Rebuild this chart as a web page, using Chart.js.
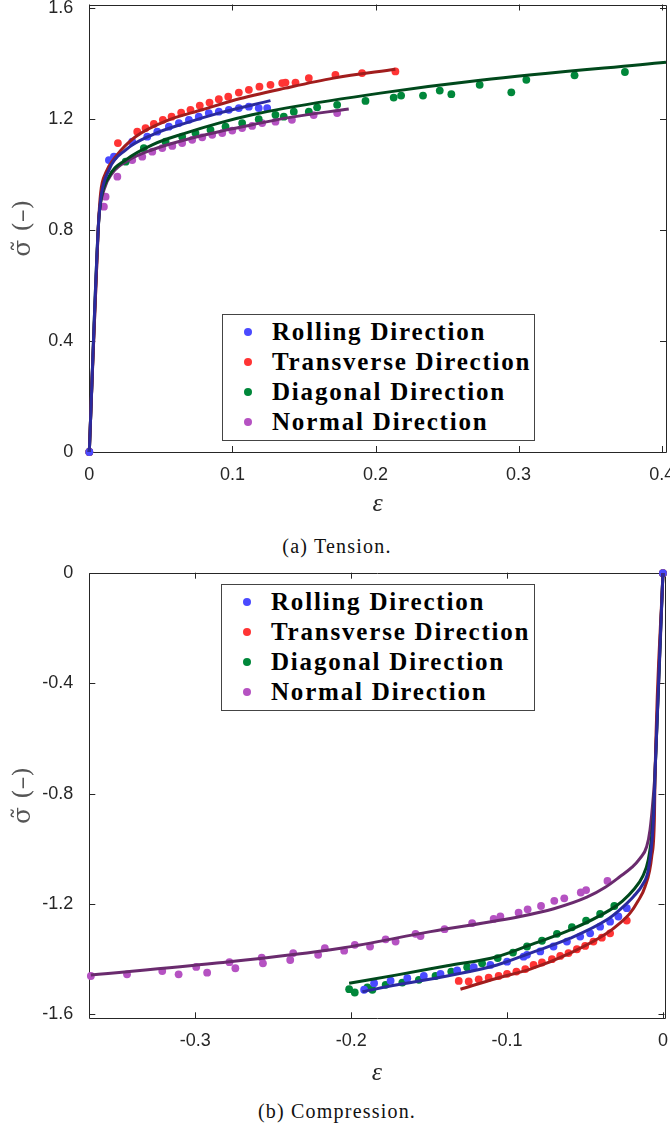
<!DOCTYPE html>
<html>
<head>
<meta charset="utf-8">
<script src="https://cdn.jsdelivr.net/npm/chart.js@4.4.1/dist/chart.umd.min.js"></script>
<style>
  body { margin: 0; background: #fff; width: 670px; height: 1130px; position: relative; overflow: hidden; }
  .plot { position: absolute; left: 0; }
  .legend { position: absolute; box-sizing: border-box; border: 1px solid #444; background: #fff;
            font-family: 'Liberation Serif', serif; font-weight: bold; font-size: 25px; letter-spacing: 1.8px; color: #000; }
  .legend .row { position: absolute; left: 0; height: 30px; line-height: 30px; white-space: nowrap; }
  .legend .dot { position: absolute; left: 21px; top: 11px; width: 8px; height: 8px; border-radius: 50%; }
  .legend .txt { position: absolute; left: 49px; top: 0; }
  .caption { position: absolute; left: 0; width: 674px; text-align: center; font-family: 'Liberation Serif', serif;
             font-size: 20px; letter-spacing: 1.2px; color: #111; }
</style>
</head>
<body>
<canvas id="tensionChart" class="plot" width="670" height="520" style="top:0"></canvas>
<div id="tensionLegend" class="legend" style="left:222px; top:314px; width:313px; height:127px;"></div>
<div class="caption" style="top:535px">(a) Tension.</div>

<canvas id="compressionChart" class="plot" width="670" height="529" style="top:560px"></canvas>
<div id="compressionLegend" class="legend" style="left:221px; top:584px; width:314px; height:127px;"></div>
<div class="caption" style="top:1100px">(b) Compression.</div>

<script>
const seriesNames = ['Rolling Direction', 'Transverse Direction', 'Diagonal Direction', 'Normal Direction'];
const pointColors = ['#4a4aff', '#ff3434', '#00873a', '#b552c2'];
const lineColors = ['#2a2a9e', '#a11d1d', '#00491c', '#6a2b6e'];

// tick labels
const xTicksTension = [0, 0.1, 0.2, 0.3, 0.4];
const yTicksTension = [0, 0.4, 0.8, 1.2, 1.6];
const xTicksCompression = [-0.3, -0.2, -0.1, 0];
const yTicksCompression = [-1.6, -1.2, -0.8, -0.4, 0];

// tension: measured points [strain, stress]
const tensionRollingPts = [[0,0],[0.0137,1.051],[0.0172,1.063],[0.030,1.117],[0.0405,1.135],[0.0475,1.153],[0.0556,1.171],
  [0.0626,1.184],[0.0696,1.196],[0.0765,1.207],[0.0835,1.220],[0.0905,1.225],[0.0975,1.232],[0.1045,1.238],[0.1115,1.243],
  [0.1184,1.238],[0.1243,1.238]];
const tensionTransversePts = [[0,0],[0.020,1.112],[0.0335,1.153],[0.0393,1.166],[0.0451,1.181],[0.0514,1.196],[0.0575,1.207],
  [0.0642,1.222],[0.0707,1.232],[0.0772,1.247],[0.084,1.258],[0.0905,1.270],[0.0971,1.279],[0.1045,1.294],[0.1115,1.304],
  [0.1189,1.315],[0.1266,1.322],[0.1348,1.328],[0.1371,1.330],[0.1441,1.330],[0.1534,1.346],[0.172,1.358],[0.1906,1.364],[0.2139,1.370]];
const tensionDiagonalPts = [[0,0],[0.0254,1.045],[0.0381,1.094],[0.0533,1.117],[0.0649,1.135],[0.0742,1.148],[0.0847,1.160],
  [0.0952,1.171],[0.1068,1.184],[0.1184,1.198],[0.1301,1.214],[0.1359,1.207],[0.1429,1.225],[0.1534,1.225],[0.1592,1.241],
  [0.1732,1.250],[0.193,1.264],[0.2127,1.276],[0.2179,1.283],[0.2332,1.283],[0.2449,1.301],[0.2530,1.288],[0.2728,1.322],
  [0.2949,1.295],[0.3054,1.340],[0.3391,1.356],[0.3743,1.368]];
const tensionNormalPts = [[0,0],[0.0102,0.883],[0.0114,0.919],[0.0196,0.991],[0.030,1.051],[0.037,1.063],[0.044,1.081],
  [0.051,1.094],[0.058,1.102],[0.0649,1.112],[0.0719,1.124],[0.0789,1.133],[0.0859,1.142],[0.0929,1.148],[0.0999,1.157],
  [0.1068,1.166],[0.1138,1.174],[0.1208,1.184],[0.1301,1.189],[0.1416,1.196],[0.1568,1.213],[0.1732,1.220]];

// tension: fitted curves
const tensionRollingFit = [[0,0],[0.0062,0.80],[0.0079,0.907],[0.0137,1.015],[0.0253,1.087],[0.044,1.142],[0.0672,1.184],
  [0.0905,1.220],[0.1266,1.265]];
const tensionTransverseFit = [[0,0],[0.0062,0.80],[0.0079,0.932],[0.0114,1.004],[0.0184,1.063],[0.0323,1.135],[0.0556,1.196],
  [0.0789,1.232],[0.1022,1.268],[0.1371,1.310],[0.1707,1.346],[0.2139,1.378]];
const tensionDiagonalFit = [[0,0],[0.0062,0.80],[0.0079,0.90],[0.0137,0.991],[0.0253,1.051],[0.044,1.106],[0.0672,1.148],
  [0.0905,1.184],[0.1138,1.214],[0.1371,1.238],[0.2034,1.292],[0.2732,1.338],[0.403,1.403]];
const tensionNormalFit = [[0,0],[0.0062,0.80],[0.0067,0.847],[0.0102,0.943],[0.0161,1.004],[0.0277,1.051],[0.044,1.088],
  [0.0672,1.124],[0.0905,1.153],[0.1138,1.178],[0.1371,1.202],[0.1813,1.235]];

// compression: measured points
const compRollingPts = [[0,0],[-0.0232,-1.216],[-0.0286,-1.246],[-0.0339,-1.265],[-0.0403,-1.283],[-0.0467,-1.307],
  [-0.0531,-1.319],[-0.0616,-1.337],[-0.0702,-1.355],[-0.0787,-1.373],[-0.0872,-1.385],[-0.0894,-1.392],[-0.1,-1.410],
  [-0.1107,-1.422],[-0.1214,-1.430],[-0.132,-1.442],[-0.1427,-1.454],[-0.1534,-1.462],[-0.164,-1.470],[-0.1747,-1.479],
  [-0.1853,-1.488],[-0.1917,-1.512]];
const compTransversePts = [[0,0],[-0.0232,-1.261],[-0.0339,-1.307],[-0.0392,-1.323],[-0.0446,-1.337],[-0.0499,-1.353],
  [-0.0552,-1.365],[-0.0606,-1.379],[-0.0659,-1.389],[-0.0712,-1.401],[-0.0776,-1.413],[-0.083,-1.422],[-0.0883,-1.437],
  [-0.094,-1.446],[-0.1,-1.454],[-0.1054,-1.462],[-0.1118,-1.468],[-0.1182,-1.474],[-0.1246,-1.482],[-0.131,-1.480]];
const compDiagonalPts = [[0,0],[-0.0312,-1.208],[-0.0403,-1.237],[-0.0493,-1.261],[-0.0584,-1.285],[-0.068,-1.309],
  [-0.0776,-1.334],[-0.0872,-1.355],[-0.0962,-1.377],[-0.106,-1.397],[-0.116,-1.416],[-0.1256,-1.430],[-0.1358,-1.446],
  [-0.1459,-1.462],[-0.1566,-1.476],[-0.1672,-1.486],[-0.1779,-1.494],[-0.1864,-1.512],[-0.1896,-1.503],[-0.1977,-1.522],
  [-0.2013,-1.510]];
const compNormalPts = [[0,0],[-0.0356,-1.117],[-0.0493,-1.150],[-0.0527,-1.159],[-0.0633,-1.180],[-0.0697,-1.189],
  [-0.0782,-1.208],[-0.0868,-1.220],[-0.0926,-1.232],[-0.1043,-1.246],[-0.1086,-1.255],[-0.1224,-1.270],[-0.1401,-1.292],
  [-0.1555,-1.317],[-0.1587,-1.309],[-0.1715,-1.337],[-0.1779,-1.329],[-0.1879,-1.355],[-0.1977,-1.349],[-0.2045,-1.370],
  [-0.2169,-1.361],[-0.2212,-1.385],[-0.2372,-1.379],[-0.2391,-1.404],[-0.2566,-1.416],[-0.2574,-1.395],[-0.2743,-1.434],
  [-0.2781,-1.412],[-0.2924,-1.450],[-0.2994,-1.429],[-0.3107,-1.456],[-0.3212,-1.444],[-0.3438,-1.456],[-0.367,-1.462]];

// compression: fitted curves
const compRollingFit = [[0,0],[-0.005,-0.714],[-0.0058,-0.86],[-0.0068,-0.956],[-0.0094,-1.077],[-0.013,-1.13],
  [-0.019,-1.174],[-0.027,-1.218],[-0.036,-1.258],[-0.0595,-1.325],[-0.0851,-1.379],[-0.1064,-1.422],[-0.1384,-1.462],
  [-0.1704,-1.494],[-0.1928,-1.519]];
const compTransverseFit = [[0,0],[-0.005,-0.714],[-0.0055,-0.895],[-0.0072,-1.029],[-0.0115,-1.138],[-0.016,-1.19],
  [-0.0211,-1.234],[-0.028,-1.272],[-0.036,-1.307],[-0.0595,-1.379],[-0.0851,-1.437],[-0.1064,-1.470],[-0.1299,-1.510]];
const compDiagonalFit = [[0,0],[-0.005,-0.714],[-0.0058,-0.85],[-0.0068,-0.932],[-0.0094,-1.040],[-0.013,-1.10],
  [-0.019,-1.150],[-0.026,-1.19],[-0.0339,-1.222],[-0.0595,-1.295],[-0.0851,-1.349],[-0.1064,-1.392],[-0.1384,-1.425],
  [-0.1704,-1.458],[-0.2013,-1.488]];
const compNormalFit = [[0,0],[-0.005,-0.714],[-0.0062,-0.811],[-0.0083,-0.932],[-0.0104,-0.992],[-0.0147,-1.035],
  [-0.0200,-1.068],[-0.0275,-1.101],[-0.037,-1.140],[-0.0488,-1.176],[-0.070,-1.218],[-0.0915,-1.246],[-0.1491,-1.301],
  [-0.2067,-1.361],[-0.2877,-1.416],[-0.367,-1.458]];

const AXIS_COLOR = '#262626';

const toXY = arr => arr.map(([x, y]) => ({ x, y }));

// MATLAB-like box with inward ticks on all four sides
const boxTicks = {
    id: 'boxTicks',
    beforeDatasetsDraw(chart) {
        const { ctx, chartArea: a, scales: { x, y } } = chart;
        const len = 6;
        ctx.save();
        ctx.strokeStyle = AXIS_COLOR;
        ctx.lineWidth = 1;
        ctx.beginPath();
        ctx.rect(Math.round(a.left) + 0.5, Math.round(a.top) + 0.5,
                 Math.round(a.right) - Math.round(a.left), Math.round(a.bottom) - Math.round(a.top));
        x.ticks.forEach(t => {
            const px = Math.round(x.getPixelForValue(t.value)) + 0.5;
            ctx.moveTo(px, a.bottom); ctx.lineTo(px, a.bottom - len);
            ctx.moveTo(px, a.top); ctx.lineTo(px, a.top + len);
        });
        y.ticks.forEach(t => {
            const py = Math.round(y.getPixelForValue(t.value)) + 0.5;
            ctx.moveTo(a.left, py); ctx.lineTo(a.left + len, py);
            ctx.moveTo(a.right, py); ctx.lineTo(a.right - len, py);
        });
        ctx.stroke();
        ctx.restore();
    }
};

function buildDatasets(pts, fits) {
    const sets = [];
    fits.forEach((f, i) => sets.push({
        type: 'line', label: seriesNames[i] + ' fit', data: toXY(f), showLine: true,
        borderColor: lineColors[i], borderWidth: 3, pointRadius: 0, fill: false,
        cubicInterpolationMode: 'monotone', order: 0, clip: false,
    }));
    pts.forEach((p, i) => sets.push({
        type: 'scatter', label: seriesNames[i], data: toXY(p),
        backgroundColor: pointColors[i], borderWidth: 0, pointRadius: 3.9, order: 1, clip: false,
    }));
    return sets;
}

function makeChart(id, pts, fits, opt) {
    const tickFont = { family: "'Liberation Sans', Arial, sans-serif", size: 18 };
    return new Chart(document.getElementById(id), {
        type: 'scatter',
        data: { datasets: buildDatasets(pts, fits) },
        options: {
            responsive: false,
            animation: false,
            devicePixelRatio: 1,
            layout: { padding: { top: opt.top, right: opt.right, bottom: 0, left: 0 } },
            plugins: { legend: { display: false }, tooltip: { enabled: false } },
            scales: {
                x: {
                    type: 'linear', min: opt.xMin, max: opt.xMax,
                    grid: { display: false, drawTicks: false },
                    border: { display: false },
                    afterBuildTicks: s => { s.ticks = opt.xTicks.map(v => ({ value: v })); },
                    afterFit: s => { s.height = opt.xHeight; s.paddingLeft = 0; s.paddingRight = 0; },
                    ticks: { color: AXIS_COLOR, font: tickFont, padding: 12, maxRotation: 0,
                             callback: v => String(+v.toFixed(1)) },
                    title: { display: true, text: '\u03B5', color: AXIS_COLOR, padding: { top: 0, bottom: 0 },
                             font: { family: "'Liberation Serif', serif", size: 26, style: 'italic' } },
                },
                y: {
                    type: 'linear', min: opt.yMin, max: opt.yMax,
                    grid: { display: false, drawTicks: false },
                    border: { display: false },
                    afterBuildTicks: s => { s.ticks = opt.yTicks.map(v => ({ value: v })); },
                    afterFit: s => { s.width = 89.3; s.paddingTop = 0; s.paddingBottom = 0; },
                    ticks: { color: AXIS_COLOR, font: tickFont, padding: 16,
                             callback: v => String(+v.toFixed(1)) },
                    title: { display: true, text: '\u03C3\u0303 (\u2013)', color: '#555', padding: { top: 8, bottom: 0 },
                             font: { family: "'DejaVu Serif', serif", size: 25, weight: 'normal' } },
                },
            },
        },
        plugins: [boxTicks],
    });
}

function buildLegend(id) {
    const box = document.getElementById(id);
    seriesNames.forEach((name, i) => {
        const row = document.createElement('div');
        row.className = 'row';
        row.style.top = (2 + i * 30) + 'px';
        row.innerHTML = '<span class="dot" style="background:' + pointColors[i] + '"></span><span class="txt">' + name + '</span>';
        box.appendChild(row);
    });
}

makeChart('tensionChart',
    [tensionRollingPts, tensionTransversePts, tensionDiagonalPts, tensionNormalPts],
    [tensionRollingFit, tensionTransverseFit, tensionDiagonalFit, tensionNormalFit],
    { top: 4.5, right: 4, xHeight: 68, xMin: 0, xMax: 0.403, yMin: 0, yMax: 1.611,
      xTicks: xTicksTension, yTicks: yTicksTension });

makeChart('compressionChart',
    [compRollingPts, compTransversePts, compDiagonalPts, compNormalPts],
    [compRollingFit, compTransverseFit, compDiagonalFit, compNormalFit],
    { top: 12.7, right: 5.5, xHeight: 70.7, xMin: -0.368, xMax: 0.001, yMin: -1.6156, yMax: 0.002,
      xTicks: xTicksCompression, yTicks: yTicksCompression });

buildLegend('tensionLegend');
buildLegend('compressionLegend');
</script>
</body>
</html>
